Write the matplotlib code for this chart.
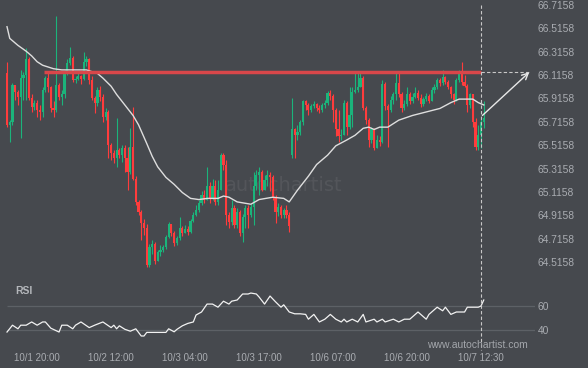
import numpy as np
import matplotlib
matplotlib.use("Agg")
import matplotlib.pyplot as plt
from matplotlib.lines import Line2D

# 30-min candles, 10/1 evening to 10/7 midday (weekend gap after index 103)
closes = [
    65.69, 65.71, 66.03, 65.97, 65.93, 66.09, 66.12, 66.25, 65.92, 65.84,
    65.88, 65.82, 65.80, 65.99, 66.09, 66.01, 65.83, 65.82, 66.03, 65.93,
    65.95, 66.13, 66.22, 66.26, 66.07, 66.08, 66.11, 66.08, 66.23, 66.25,
    66.07, 65.92, 65.88, 65.99, 65.93, 65.76, 65.80, 65.52, 65.45, 65.41,
    65.47, 65.43, 65.49, 65.41, 65.29, 65.50, 65.23, 65.03, 64.94, 64.85,
    64.81, 64.49, 64.64, 64.67, 64.52, 64.60, 64.62, 64.64, 64.73, 64.84,
    64.76, 64.68, 64.72, 64.81, 64.76, 64.80, 64.77, 64.87, 64.92, 64.96,
    65.02, 65.09, 65.05, 65.17, 65.06, 65.17, 65.03, 65.13, 65.43, 65.35,
    64.92, 64.86, 64.98, 64.83, 64.94, 64.76, 64.90, 64.98, 64.92, 64.99,
    65.17, 65.26, 65.29, 65.13, 65.22, 65.26, 65.24, 65.07, 64.94, 64.99,
    64.92, 64.96, 64.92, 64.82, 65.65, 65.60, 65.63, 65.71, 65.89, 65.86,
    65.82, 65.85, 65.87, 65.83, 65.82, 65.86, 65.88, 65.96, 65.94, 65.82,
    65.65, 65.59, 65.60, 65.88, 65.67, 65.77, 65.97, 65.99, 66.01, 66.09,
    65.83, 65.73, 65.56, 65.65, 65.49, 65.56, 65.54, 66.04, 65.85, 65.82,
    65.90, 65.95, 66.05, 65.95, 65.83, 65.87, 65.95, 65.89, 65.93, 65.96,
    65.92, 65.87, 65.91, 65.94, 65.89, 65.99, 66.01, 66.07, 66.05, 66.10,
    66.06, 66.01, 65.95, 65.90, 66.07, 66.13, 66.06, 66.02, 65.86, 65.95,
    65.71, 65.50, 65.60, 65.71, 65.75,
]
highs = [
    66.23, 65.73, 66.05, 66.03, 65.99, 66.16, 66.14, 66.35, 66.27, 65.95,
    65.90, 65.90, 65.86, 66.01, 66.11, 66.14, 66.02, 65.89, 66.62, 66.05,
    65.99, 66.16, 66.25, 66.36, 66.28, 66.11, 66.13, 66.12, 66.31, 66.28,
    66.26, 66.11, 65.94, 66.01, 66.02, 65.95, 65.83, 65.82, 65.53, 65.47,
    65.75, 65.49, 65.52, 65.52, 65.50, 65.66, 65.84, 65.25, 65.05, 64.96,
    64.88, 64.84, 64.67, 64.70, 64.69, 64.62, 64.66, 64.66, 64.75, 64.86,
    64.84, 64.78, 64.74, 64.90, 64.82, 64.83, 64.82, 64.88, 64.94, 65.00,
    65.05, 65.12, 65.13, 65.33, 65.20, 65.23, 65.22, 65.22, 65.45, 65.45,
    65.39, 64.94, 65.05, 65.00, 64.98, 64.96, 64.93, 65.00, 65.00, 65.01,
    65.29, 65.30, 65.33, 65.30, 65.26, 65.30, 65.29, 65.26, 65.09, 65.02,
    65.00, 64.98, 65.00, 64.94, 65.92, 65.66, 65.69, 65.73, 65.90, 65.90,
    65.88, 65.87, 65.89, 65.88, 65.86, 65.88, 65.90, 65.98, 65.99, 65.95,
    65.83, 65.82, 65.65, 65.90, 65.89, 66.01, 66.01, 66.13, 66.13, 66.14,
    66.11, 65.85, 65.75, 65.67, 65.66, 65.60, 65.59, 66.07, 66.06, 65.87,
    65.94, 65.97, 66.14, 66.13, 65.97, 65.90, 66.01, 65.97, 65.96, 66.01,
    65.99, 65.95, 65.93, 65.96, 65.95, 66.01, 66.04, 66.09, 66.09, 66.16,
    66.11, 66.07, 66.02, 65.96, 66.09, 66.16, 66.23, 66.12, 66.04, 65.96,
    65.95, 65.75, 65.69, 65.76, 65.89,
]
lows = [
    65.67, 65.54, 65.69, 65.90, 65.86, 65.58, 65.90, 65.90, 65.90, 65.80,
    65.82, 65.76, 65.73, 65.76, 65.97, 65.97, 65.80, 65.76, 65.80, 65.90,
    65.86, 65.92, 66.12, 66.20, 66.06, 66.05, 66.07, 66.04, 66.07, 66.19,
    66.04, 65.90, 65.79, 65.85, 65.89, 65.71, 65.73, 65.41, 65.39, 65.36,
    65.33, 65.41, 65.37, 65.29, 65.13, 65.27, 65.22, 65.00, 64.92, 64.70,
    64.75, 64.47, 64.47, 64.58, 64.50, 64.52, 64.57, 64.60, 64.63, 64.72,
    64.74, 64.65, 64.66, 64.70, 64.74, 64.76, 64.75, 64.76, 64.86, 64.91,
    64.94, 65.00, 65.02, 65.05, 65.02, 65.05, 65.00, 65.00, 65.13, 65.30,
    64.83, 64.81, 64.83, 64.81, 64.81, 64.74, 64.69, 64.81, 64.81, 64.90,
    64.83, 65.13, 65.09, 65.12, 65.13, 65.17, 65.12, 65.05, 64.85, 64.91,
    64.89, 64.89, 64.89, 64.77, 65.41, 65.41, 65.56, 65.60, 65.69, 65.82,
    65.77, 65.80, 65.83, 65.81, 65.79, 65.80, 65.83, 65.86, 65.90, 65.71,
    65.59, 65.54, 65.56, 65.60, 65.60, 65.65, 65.67, 65.96, 65.97, 66.01,
    65.82, 65.70, 65.50, 65.53, 65.47, 65.49, 65.51, 65.53, 65.82, 65.50,
    65.80, 65.87, 65.90, 65.93, 65.80, 65.82, 65.85, 65.87, 65.88, 65.92,
    65.90, 65.84, 65.85, 65.89, 65.88, 65.89, 65.96, 66.00, 66.02, 66.03,
    66.04, 66.00, 65.92, 65.87, 65.89, 66.06, 66.03, 66.01, 65.80, 65.83,
    65.67, 65.47, 65.47, 65.49, 65.66,
]
FIRST_OPEN = 66.13
GAP_INDEX = 104
GAP_OPEN = 65.43

# moving average (white line)
ma_idx = [0, 1, 4, 7, 9, 11, 13, 17, 20, 24, 29, 33, 35, 38, 40, 43, 46, 48, 51, 53,
          55, 58, 61, 64, 67, 70, 73, 77, 79, 81, 84, 89, 92, 97, 101, 103, 106, 110, 113, 117,
          120, 124, 127, 130, 132, 134, 136, 139, 143, 148, 153, 158, 162, 165, 170, 172, 174]
ma_val = [66.53, 66.43, 66.37, 66.32, 66.28, 66.23, 66.20, 66.17, 66.16, 66.16,
          66.16, 66.13, 66.09, 66.02, 65.95, 65.86, 65.77, 65.69, 65.53, 65.42,
          65.33, 65.24, 65.18, 65.11, 65.06, 65.05, 65.06, 65.06, 65.08, 65.07,
          65.03, 65.01, 65.05, 65.07, 65.06, 65.03, 65.13, 65.25, 65.35, 65.43,
          65.51, 65.56, 65.60, 65.66, 65.67, 65.65, 65.67, 65.67, 65.73, 65.77,
          65.80, 65.83, 65.88, 65.91, 65.91, 65.88, 65.86]

rsi_idx = [0, 2, 4, 5, 7, 9, 11, 13, 14, 16, 19, 20, 22, 24, 25, 27, 30, 32, 35, 38,
           39, 40, 41, 43, 45, 47, 49, 50, 51, 58, 59, 61, 62, 64, 66, 68, 69, 71, 73, 75,
           77, 79, 81, 82, 84, 86, 88, 89, 91, 92, 94, 96, 98, 100, 101, 103, 105, 107, 109, 110,
           112, 114, 116, 118, 120, 122, 123, 124, 126, 128, 130, 131, 134, 135, 137, 138, 141, 143, 145, 147,
           150, 153, 154, 157, 159, 160, 162, 164, 167, 168, 172, 173, 174]
rsi_val = [38.3, 44, 41, 44, 44, 46.7, 44, 46.7, 46.7, 41.5, 38.3, 44, 44, 41, 44, 46.7, 42, 44, 46.7, 42,
           44, 41, 43.5, 40.6, 39, 41, 35, 35, 38, 38, 41, 38.5, 40.5, 43.5, 45.5, 46.7, 52.5, 55, 61.6, 61.6,
           59, 64, 61.6, 64, 65, 70, 70, 70.8, 70, 67.5, 61.6, 68.3, 63.5, 59, 61, 55, 53.5, 53.5, 53, 49,
           53, 46.7, 49, 53, 49, 46.7, 49, 46.7, 49, 46.7, 53, 46.7, 49, 46.7, 49, 46.7, 49, 46.7, 49, 49,
           55, 49, 53, 59, 56, 59, 53, 55, 55, 59, 59, 60, 65]

RESISTANCE = 66.14
RES_START = 14
NOW_IDX = 173
FORECAST_FROM = (173.5, 65.77)
FORECAST_TO = (190.6, 66.14)

tick_idx = [11, 38, 65, 92, 119, 146, 173]
tick_labels = ['10/1 20:00', '10/2 12:00', '10/3 04:00', '10/3 17:00',
               '10/6 07:00', '10/6 20:00', '10/7 12:30']
price_ticks = [64.5158, 64.7158, 64.9158, 65.1158, 65.3158, 65.5158,
               65.7158, 65.9158, 66.1158, 66.3158, 66.5158, 66.7158]

BG = '#46494e'
GREEN = '#1bb47b'
RED = '#ff3c3c'
TXT = '#a9acb1'

plt.rcParams['font.family'] = ['Liberation Sans', 'DejaVu Sans']

W, H = 588, 368
fig = plt.figure(figsize=(W / 100, H / 100), dpi=100, facecolor=BG)
ax = fig.add_axes([0, (H - 270) / H, 535 / W, 270 / H], facecolor=BG)
rax = fig.add_axes([0, (H - 342) / H, 535 / W, 60 / H], facecolor=BG)

step = 2.74  # pixels per candle
xlim = (-7 / step, 528 / step)

idx = np.arange(len(closes))
c = np.array(closes)
o = np.array([FIRST_OPEN] + closes[:-1])
o[GAP_INDEX] = GAP_OPEN
up = c >= o
cols = np.where(up, GREEN, RED)
bottoms = np.minimum(o, c)
heights = np.maximum(np.abs(c - o), 0.006)

ax.vlines(idx, lows, highs, colors=cols, lw=0.8, zorder=2)
ax.bar(idx, heights, bottom=bottoms, width=0.8, color=cols, linewidth=0, zorder=3)

ax.plot(ma_idx, ma_val, color='#dedede', lw=1.0, zorder=4)

ax.hlines(RESISTANCE, RES_START - 0.4, NOW_IDX, color='#d9474a', lw=2.5, zorder=5)
ax.hlines(RESISTANCE, NOW_IDX, FORECAST_TO[0], color='#c8c8c8', lw=0.8,
          linestyles=(0, (3, 2)), zorder=5)
ax.annotate('', xy=FORECAST_TO, xytext=FORECAST_FROM,
            arrowprops=dict(arrowstyle='->', color='#e8e8e8', lw=1.0,
                            mutation_scale=11, shrinkA=0, shrinkB=0), zorder=6)

# faint watermark
ax.text(101, 65.17, 'autochartist', color='#ffffff', alpha=0.07,
        fontsize=14, family='DejaVu Sans', ha='center', va='center', zorder=1)

ax.set_xlim(*xlim)
ax.set_ylim(64.4468, 66.7586)
ax.yaxis.tick_right()
ax.set_yticks(price_ticks, [f'{p:.4f}' for p in price_ticks])
ax.tick_params(axis='y', length=0, pad=2, labelsize=7.4, labelcolor=TXT)
ax.set_xticks([])

# RSI panel
rax.hlines([40, 60], 0, xlim[1], color='#5d6166', lw=0.9)
rax.plot(rsi_idx, rsi_val, color='#f2f2f2', lw=0.9)
rax.set_xlim(*xlim)
rax.set_ylim(30, 80)
rax.yaxis.tick_right()
rax.set_yticks([40, 60], ['40', '60'])
rax.tick_params(axis='y', length=0, pad=2, labelsize=7.4, labelcolor=TXT)
rax.set_xticks(tick_idx, tick_labels)
rax.tick_params(axis='x', length=0, pad=8, labelsize=7.0, labelcolor=TXT)

for a in (ax, rax):
    for s in a.spines.values():
        s.set_visible(False)

# vertical "now" line through both panels
fig.canvas.draw()
xd = ax.transData.transform((NOW_IDX, 0))[0]
xf = fig.transFigure.inverted().transform((xd, 0))[0]
fig.add_artist(Line2D([xf, xf], [(H - 5) / H, (H - 350) / H], transform=fig.transFigure,
                      color='#c8c8c8', lw=0.8, linestyle=(0, (3, 2))))

fig.text(15 / W, 1 - 291 / H, 'RSI', color='#b4b7bb', fontsize=7.5,
         fontweight='bold', va='center')
fig.text(477 / W, 1 - 345 / H, 'www.autochartist.com', color='#a3a6ab',
         fontsize=7.5, ha='center', va='center')

fig.savefig('out.png', dpi=100, facecolor=BG)
